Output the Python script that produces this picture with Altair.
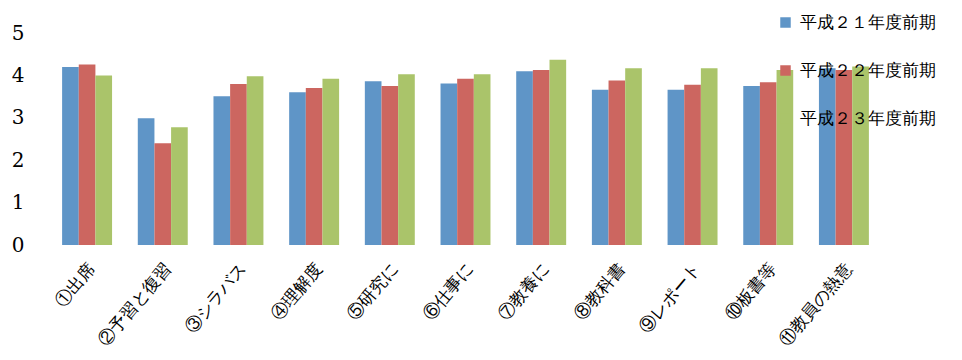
import altair as alt
import pandas as pd

categories = ["①出席", "②予習と復習", "③シラバス", "④理解度", "⑤研究に", "⑥仕事に",
              "⑦教養に", "⑧教科書", "⑨レポート", "⑩板書等", "⑪教員の熱意"]
series = ["平成２１年度前期", "平成２２年度前期", "平成２３年度前期"]
h21 = [4.20, 2.99, 3.51, 3.60, 3.86, 3.81, 4.10, 3.66, 3.66, 3.75, 4.17]
h22 = [4.26, 2.40, 3.80, 3.70, 3.75, 3.92, 4.13, 3.88, 3.78, 3.84, 4.13]
h23 = [4.00, 2.78, 3.98, 3.92, 4.03, 4.03, 4.37, 4.17, 4.17, 4.13, 4.21]
colors = ["#5F95C7", "#CC6660", "#AAC46A"]

rows = []
for name, vals in zip(series, [h21, h22, h23]):
    for c, v in zip(categories, vals):
        rows.append({"cat": c, "series": name, "value": v})
df = pd.DataFrame(rows)

SERIF = "DejaVu Serif"

chart = alt.Chart(df).mark_bar().encode(
    x=alt.X("cat:N", sort=categories, title=None,
            scale=alt.Scale(paddingInner=0.34, paddingOuter=0.16),
            axis=alt.Axis(labelAngle=-50, labelPadding=20, labelOffset=5, labelLimit=200)),
    xOffset=alt.XOffset("series:N", sort=series, scale=alt.Scale(paddingInner=0, paddingOuter=0)),
    y=alt.Y("value:Q", title=None,
            scale=alt.Scale(domain=[0, 5], nice=False),
            axis=alt.Axis(values=[0, 1, 2, 3, 4, 5], grid=False,
                          labelFontSize=20, labelPadding=26)),
    color=alt.Color("series:N", sort=series,
                    scale=alt.Scale(domain=series, range=colors),
                    legend=alt.Legend(title=None, orient="none", legendX=727, legendY=-19,
                                      symbolType="square", symbolSize=110,
                                      symbolStrokeWidth=0,
                                      labelFontSize=17,
                                      rowPadding=30, labelOffset=6, labelLimit=300)),
).properties(
    width=831, height=212,
    background="white",
    autosize=alt.AutoSizeParams(type="none"),
    padding={"left": 50, "top": 33, "right": 81, "bottom": 115},
).configure_view(strokeWidth=0).configure_axis(
    labelFont=SERIF, labelColor="#000", domain=False, ticks=False
).configure_axisX(labelFontSize=17).configure_legend(labelFont=SERIF, labelColor="#000")

chart.save("out.html", embed_options={"renderer": "svg", "actions": False})
